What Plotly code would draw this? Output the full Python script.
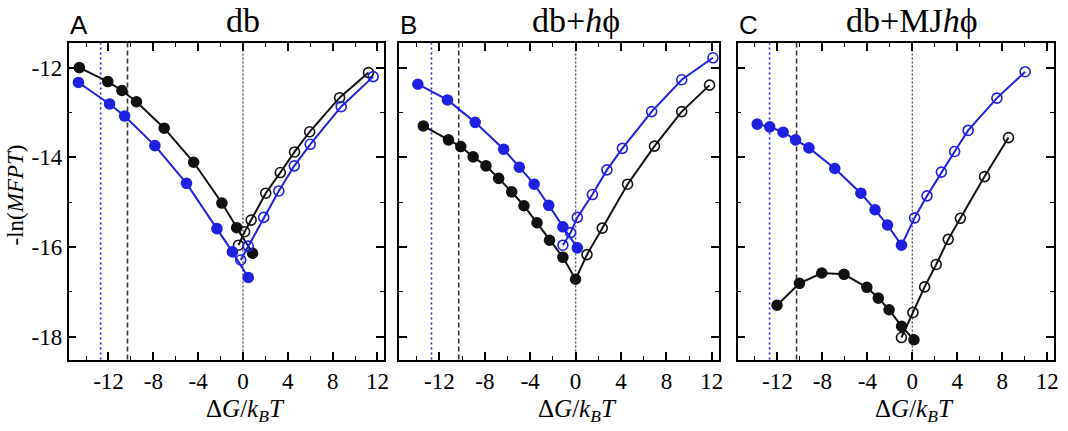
import plotly.graph_objects as go

# ---------------- data ----------------
# Panel A  (db)
a_black_fill_x = [-14.6, -12.06, -10.8, -9.5, -7.03, -4.4, -1.88, -0.56, 0.85]
a_black_fill_y = [-12.0, -12.31, -12.51, -12.76, -13.35, -14.11, -15.02, -15.57, -16.14]
a_black_open_x = [-0.4, 0.15, 0.73, 2.03, 3.33, 4.6, 5.95, 8.62, 11.2]
a_black_open_y = [-15.96, -15.66, -15.4, -14.8, -14.34, -13.88, -13.43, -12.67, -12.11]
a_blue_fill_x = [-14.68, -11.9, -10.56, -7.86, -5.04, -2.32, -0.94, 0.47]
a_blue_fill_y = [-12.33, -12.81, -13.08, -13.74, -14.58, -15.59, -16.11, -16.68]
a_blue_open_x = [-0.2, 0.47, 1.85, 3.2, 4.58, 6.0, 8.76, 11.62]
a_blue_open_y = [-16.29, -15.98, -15.34, -14.75, -14.19, -13.71, -12.87, -12.2]

# Panel B  (db + h phi)
b_blue_fill_x = [-13.9, -11.29, -8.85, -6.34, -4.96, -3.65, -2.37, -1.12, 0.15]
b_blue_fill_y = [-12.37, -12.72, -13.22, -13.82, -14.22, -14.6, -15.07, -15.55, -16.02]
b_blue_open_x = [-1.12, -0.44, 0.15, 1.48, 2.76, 4.12, 6.7, 9.35, 12.1]
b_blue_open_y = [-15.96, -15.68, -15.34, -14.83, -14.28, -13.8, -12.98, -12.27, -11.78]
b_black_fill_x = [-13.42, -11.2, -10.12, -9.03, -7.9, -6.78, -5.63, -4.55, -3.4, -2.3, -1.12, 0.0]
b_black_fill_y = [-13.3, -13.61, -13.76, -13.99, -14.19, -14.47, -14.77, -15.08, -15.46, -15.85, -16.23, -16.72]
b_black_open_x = [1.0, 2.35, 4.58, 6.95, 9.35, 11.8]
b_black_open_y = [-16.17, -15.58, -14.6, -13.75, -12.98, -12.39]

# Panel C  (db + MJ h phi)
c_blue_fill_x = [-13.8, -12.69, -11.5, -10.39, -9.2, -6.9, -4.58, -3.32, -2.21, -0.97]
c_blue_fill_y = [-13.26, -13.32, -13.44, -13.61, -13.79, -14.25, -14.8, -15.17, -15.51, -15.96]
c_blue_open_x = [0.2, 1.3, 2.58, 3.76, 4.96, 7.52, 10.03]
c_blue_open_y = [-15.35, -14.86, -14.33, -13.87, -13.4, -12.68, -12.09]
c_black_fill_x = [-12.04, -10.04, -8.06, -6.08, -4.05, -3.03, -2.07, -0.96, 0.14]
c_black_fill_y = [-17.3, -16.81, -16.58, -16.61, -16.9, -17.14, -17.4, -17.77, -18.07]
c_black_open_x = [-0.97, 0.05, 1.09, 2.12, 3.19, 4.27, 6.42, 8.55]
c_black_open_y = [-18.02, -17.46, -16.89, -16.39, -15.83, -15.36, -14.43, -13.56]

# reference lines (x positions)
blue_dotted_x = -12.7
black_dashed_x = -10.3
zero_dotted_x = 0.0

panel_letters = ["A", "B", "C"]
panel_titles = ["db", "db+<i>h</i>ϕ", "db+MJ<i>h</i>ϕ"]
x_tickvals = [-12, -8, -4, 0, 4, 8, 12]
x_ticktext = ["-12", "-8", "-4", "0", "4", "8", "12"]
y_tickvals = [-18, -16, -14, -12]
y_ticktext = ["-18", "-16", "-14", "-12"]

# ---------------- style ----------------
W, H = 1068, 431
BLUE = "#2020e0"
BLACK = "#111111"
SERIF = "Liberation Serif, Times New Roman, serif"
SANS = "Liberation Sans, Arial, sans-serif"

px_domains = [(69, 386), (401, 722), (741, 1059)]
y_top_px, y_bot_px = 43, 359.5
xr = [-15.55, 12.6]
yr = [-18.51, -11.45]

fig = go.Figure()


def add_series(panel, xs, ys, color, symbols):
    sfx = "" if panel == 1 else str(panel)
    fig.add_trace(go.Scatter(
        x=xs, y=ys, mode="lines+markers",
        xaxis="x" + sfx, yaxis="y" + sfx,
        line=dict(color=color, width=2),
        marker=dict(color=color, size=10, symbol=symbols,
                    line=dict(color=color, width=1.6)),
        showlegend=False, hoverinfo="x+y"))


def filled(n):
    return ["circle"] * n


def opened(n):
    return ["circle-open"] * n


# panel A
add_series(1, a_black_fill_x, a_black_fill_y, BLACK, filled(len(a_black_fill_x)))
add_series(1, a_black_open_x, a_black_open_y, BLACK, opened(len(a_black_open_x)))
add_series(1, a_blue_fill_x, a_blue_fill_y, BLUE, filled(len(a_blue_fill_x)))
add_series(1, a_blue_open_x, a_blue_open_y, BLUE, opened(len(a_blue_open_x)))
# panel B
add_series(2, b_black_fill_x + b_black_open_x, b_black_fill_y + b_black_open_y, BLACK,
           filled(len(b_black_fill_x)) + opened(len(b_black_open_x)))
add_series(2, b_blue_fill_x, b_blue_fill_y, BLUE, filled(len(b_blue_fill_x)))
add_series(2, b_blue_open_x, b_blue_open_y, BLUE, opened(len(b_blue_open_x)))
# panel C
add_series(3, c_blue_fill_x + c_blue_open_x, c_blue_fill_y + c_blue_open_y, BLUE,
           filled(len(c_blue_fill_x)) + opened(len(c_blue_open_x)))
add_series(3, c_black_fill_x, c_black_fill_y, BLACK, filled(len(c_black_fill_x)))
add_series(3, c_black_open_x, c_black_open_y, BLACK, opened(len(c_black_open_x)))

layout = dict(
    width=W, height=H,
    margin=dict(l=0, r=0, t=0, b=0),
    paper_bgcolor="white", plot_bgcolor="white",
    showlegend=False,
)

shapes = []
annotations = []
ydom = [1 - y_bot_px / H, 1 - y_top_px / H]

for i, (l, r) in enumerate(px_domains):
    n = i + 1
    sfx = "" if n == 1 else str(n)
    layout["xaxis" + sfx] = dict(
        domain=[l / W, r / W], range=xr, anchor="y" + sfx,
        showgrid=False, zeroline=False,
        showline=True, linecolor="black", linewidth=1.6, mirror="allticks",
        ticks="inside", ticklen=8, tickwidth=1.5, tickcolor="black",
        tickvals=x_tickvals, ticktext=x_ticktext,
        tickfont=dict(family=SERIF, size=23, color="black"),
        minor=dict(dtick=2, tick0=0, ticks="inside", ticklen=4, tickwidth=1.2, tickcolor="black"),
        fixedrange=True,
    )
    yax = dict(
        domain=ydom, range=yr, anchor="x" + sfx,
        showgrid=False, zeroline=False,
        showline=True, linecolor="black", linewidth=1.6, mirror="allticks",
        ticks="inside", ticklen=8, tickwidth=1.5, tickcolor="black",
        tickvals=y_tickvals,
        showticklabels=(n == 1),
        tickfont=dict(family=SERIF, size=23, color="black"),
        minor=dict(dtick=1, tick0=0, ticks="inside", ticklen=4, tickwidth=1.2, tickcolor="black"),
        fixedrange=True,
    )
    if n == 1:
        yax["ticktext"] = y_ticktext
    layout["yaxis" + sfx] = yax
    xref = "x" + sfx
    # vertical reference lines
    shapes.append(dict(type="line", xref=xref, yref="paper", x0=blue_dotted_x, x1=blue_dotted_x,
                       y0=ydom[0], y1=ydom[1], line=dict(color=BLUE, width=1.6, dash="2px,3px"),
                       layer="below"))
    shapes.append(dict(type="line", xref=xref, yref="paper", x0=black_dashed_x, x1=black_dashed_x,
                       y0=ydom[0], y1=ydom[1], line=dict(color="#333333", width=1.6, dash="5px,3px"),
                       layer="below"))
    shapes.append(dict(type="line", xref=xref, yref="paper", x0=zero_dotted_x, x1=zero_dotted_x,
                       y0=ydom[0], y1=ydom[1], line=dict(color="#555555", width=1.4, dash="2px,2px"),
                       layer="below"))
    # panel letter
    annotations.append(dict(text=panel_letters[i], xref="paper", yref="paper",
                            x=(l - 1) / W, y=1 - 25 / H, xanchor="left", yanchor="middle",
                            showarrow=False, font=dict(family=SANS, size=26, color="black")))
    # panel title
    annotations.append(dict(text=panel_titles[i], xref=xref, yref="paper",
                            x=0.0, y=1 - 20 / H, xanchor="center", yanchor="middle",
                            showarrow=False, font=dict(family=SERIF, size=34, color="black")))
    # x axis title
    annotations.append(dict(text="Δ<i>G</i>/<i>k<sub>B</sub>T</i>", xref=xref, yref="paper",
                            x=0.2, y=1 - 410 / H, xanchor="center", yanchor="middle",
                            showarrow=False, font=dict(family=SERIF, size=25, color="black")))

annotations.append(dict(text="-ln(<i>MFPT</i>)", xref="paper", yref="paper",
                        x=0, y=1 - 195 / H, xanchor="left", yanchor="middle",
                        textangle=-90, showarrow=False,
                        font=dict(family=SERIF, size=23, color="black")))

layout["shapes"] = shapes
layout["annotations"] = annotations
fig.update_layout(**layout)

fig.write_html("out.html")
